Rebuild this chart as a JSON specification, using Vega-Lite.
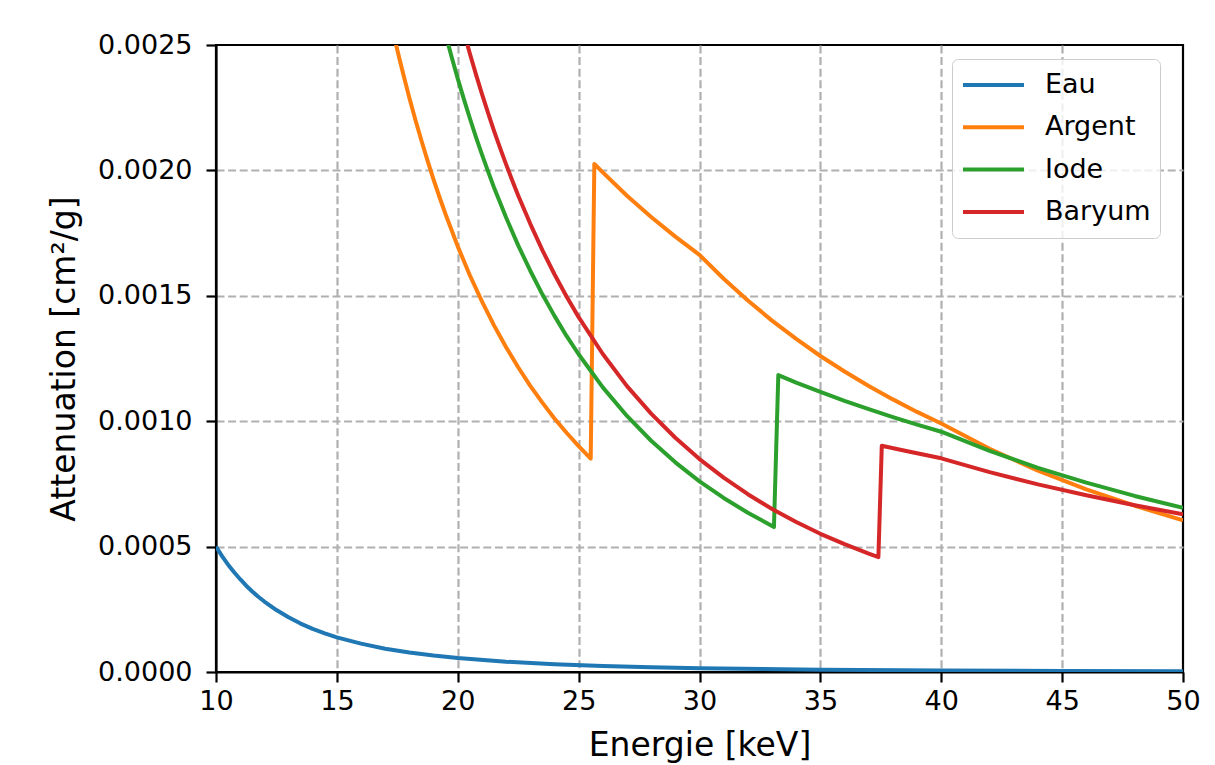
{
  "$schema": "https://vega.github.io/schema/vega-lite/v6.json",
  "width": 967,
  "height": 627,
  "autosize": {"type": "none"},
  "padding": {"left": 216, "top": 45, "right": 32, "bottom": 93},
  "background": "white",
  "config": {
    "font": "DejaVu Sans",
    "view": {"stroke": "black", "strokeWidth": 2.2},
    "axis": {
      "domainColor": "black",
      "domainWidth": 2.2,
      "tickColor": "black",
      "tickWidth": 2.2,
      "tickSize": 10,
      "labelFontSize": 27,
      "labelColor": "black",
      "labelFlush": false,
      "titleFontSize": 33,
      "titleFontWeight": "normal",
      "titleColor": "black",
      "gridColor": "#b0b0b0",
      "gridWidth": 2.2,
      "gridDash": [8, 3.6]
    }
  },
  "data": {
    "values": [
      {"s": "Eau", "e": 10, "v": 0.0005},
      {"s": "Eau", "e": 10.25, "v": 0.000462},
      {"s": "Eau", "e": 10.5, "v": 0.000428},
      {"s": "Eau", "e": 10.75, "v": 0.000398},
      {"s": "Eau", "e": 11, "v": 0.00037},
      {"s": "Eau", "e": 11.25, "v": 0.000344},
      {"s": "Eau", "e": 11.5, "v": 0.000321},
      {"s": "Eau", "e": 11.75, "v": 0.0003},
      {"s": "Eau", "e": 12, "v": 0.000281},
      {"s": "Eau", "e": 12.5, "v": 0.000247},
      {"s": "Eau", "e": 13, "v": 0.000218},
      {"s": "Eau", "e": 13.5, "v": 0.000193},
      {"s": "Eau", "e": 14, "v": 0.000172},
      {"s": "Eau", "e": 14.5, "v": 0.000154},
      {"s": "Eau", "e": 15, "v": 0.000138},
      {"s": "Eau", "e": 16, "v": 0.000113},
      {"s": "Eau", "e": 17, "v": 0.000093},
      {"s": "Eau", "e": 18, "v": 0.0000776},
      {"s": "Eau", "e": 19, "v": 0.0000654},
      {"s": "Eau", "e": 20, "v": 0.0000556},
      {"s": "Eau", "e": 22, "v": 0.0000411},
      {"s": "Eau", "e": 24, "v": 0.0000312},
      {"s": "Eau", "e": 26, "v": 0.0000242},
      {"s": "Eau", "e": 28, "v": 0.0000191},
      {"s": "Eau", "e": 30, "v": 0.0000154},
      {"s": "Eau", "e": 35, "v": 0.0000094},
      {"s": "Eau", "e": 40, "v": 0.0000062},
      {"s": "Eau", "e": 45, "v": 0.0000042},
      {"s": "Eau", "e": 50, "v": 0.000003},

      {"s": "Argent", "e": 17.2, "v": 0.002605},
      {"s": "Argent", "e": 17.5, "v": 0.00248},
      {"s": "Argent", "e": 17.75, "v": 0.002382},
      {"s": "Argent", "e": 18, "v": 0.002289},
      {"s": "Argent", "e": 18.25, "v": 0.002201},
      {"s": "Argent", "e": 18.5, "v": 0.002118},
      {"s": "Argent", "e": 18.75, "v": 0.002039},
      {"s": "Argent", "e": 19, "v": 0.001963},
      {"s": "Argent", "e": 19.25, "v": 0.001892},
      {"s": "Argent", "e": 19.5, "v": 0.001824},
      {"s": "Argent", "e": 20, "v": 0.001697},
      {"s": "Argent", "e": 20.5, "v": 0.001582},
      {"s": "Argent", "e": 21, "v": 0.001478},
      {"s": "Argent", "e": 21.5, "v": 0.001382},
      {"s": "Argent", "e": 22, "v": 0.001295},
      {"s": "Argent", "e": 22.5, "v": 0.001215},
      {"s": "Argent", "e": 23, "v": 0.001141},
      {"s": "Argent", "e": 23.5, "v": 0.001074},
      {"s": "Argent", "e": 24, "v": 0.001011},
      {"s": "Argent", "e": 24.5, "v": 0.000954},
      {"s": "Argent", "e": 25, "v": 0.0009005},
      {"s": "Argent", "e": 25.5, "v": 0.000851},
      {"s": "Argent", "e": 25.65, "v": 0.002026},
      {"s": "Argent", "e": 26, "v": 0.001992},
      {"s": "Argent", "e": 27, "v": 0.001899},
      {"s": "Argent", "e": 28, "v": 0.001814},
      {"s": "Argent", "e": 29, "v": 0.001736},
      {"s": "Argent", "e": 30, "v": 0.001663},
      {"s": "Argent", "e": 31, "v": 0.001568},
      {"s": "Argent", "e": 32, "v": 0.001481},
      {"s": "Argent", "e": 33, "v": 0.001401},
      {"s": "Argent", "e": 34, "v": 0.001328},
      {"s": "Argent", "e": 35, "v": 0.00126},
      {"s": "Argent", "e": 36, "v": 0.001198},
      {"s": "Argent", "e": 37, "v": 0.00114},
      {"s": "Argent", "e": 38, "v": 0.001087},
      {"s": "Argent", "e": 39, "v": 0.001037},
      {"s": "Argent", "e": 40, "v": 0.000991},
      {"s": "Argent", "e": 42, "v": 0.00089},
      {"s": "Argent", "e": 44, "v": 0.000803},
      {"s": "Argent", "e": 46, "v": 0.000728},
      {"s": "Argent", "e": 48, "v": 0.000663},
      {"s": "Argent", "e": 50, "v": 0.000605},

      {"s": "Iode", "e": 19.4, "v": 0.002577},
      {"s": "Iode", "e": 19.75, "v": 0.002451},
      {"s": "Iode", "e": 20, "v": 0.002366},
      {"s": "Iode", "e": 20.25, "v": 0.002285},
      {"s": "Iode", "e": 20.5, "v": 0.002208},
      {"s": "Iode", "e": 20.75, "v": 0.002134},
      {"s": "Iode", "e": 21, "v": 0.002064},
      {"s": "Iode", "e": 21.25, "v": 0.001997},
      {"s": "Iode", "e": 21.5, "v": 0.001932},
      {"s": "Iode", "e": 22, "v": 0.001812},
      {"s": "Iode", "e": 22.5, "v": 0.001701},
      {"s": "Iode", "e": 23, "v": 0.0016},
      {"s": "Iode", "e": 23.5, "v": 0.001506},
      {"s": "Iode", "e": 24, "v": 0.00142},
      {"s": "Iode", "e": 24.5, "v": 0.00134},
      {"s": "Iode", "e": 25, "v": 0.001267},
      {"s": "Iode", "e": 26, "v": 0.001135},
      {"s": "Iode", "e": 27, "v": 0.001021},
      {"s": "Iode", "e": 28, "v": 0.000922},
      {"s": "Iode", "e": 29, "v": 0.000836},
      {"s": "Iode", "e": 30, "v": 0.00076},
      {"s": "Iode", "e": 31, "v": 0.000694},
      {"s": "Iode", "e": 32, "v": 0.000635},
      {"s": "Iode", "e": 33.08, "v": 0.000578},
      {"s": "Iode", "e": 33.26, "v": 0.001184},
      {"s": "Iode", "e": 34, "v": 0.001154},
      {"s": "Iode", "e": 35, "v": 0.001117},
      {"s": "Iode", "e": 36, "v": 0.001081},
      {"s": "Iode", "e": 37, "v": 0.001048},
      {"s": "Iode", "e": 38, "v": 0.001016},
      {"s": "Iode", "e": 39, "v": 0.000986},
      {"s": "Iode", "e": 40, "v": 0.000958},
      {"s": "Iode", "e": 42, "v": 0.000882},
      {"s": "Iode", "e": 44, "v": 0.000814},
      {"s": "Iode", "e": 46, "v": 0.000755},
      {"s": "Iode", "e": 48, "v": 0.000702},
      {"s": "Iode", "e": 50, "v": 0.000655},

      {"s": "Baryum", "e": 20.2, "v": 0.00257},
      {"s": "Baryum", "e": 20.5, "v": 0.002466},
      {"s": "Baryum", "e": 20.75, "v": 0.002384},
      {"s": "Baryum", "e": 21, "v": 0.002305},
      {"s": "Baryum", "e": 21.25, "v": 0.00223},
      {"s": "Baryum", "e": 21.5, "v": 0.002158},
      {"s": "Baryum", "e": 21.75, "v": 0.00209},
      {"s": "Baryum", "e": 22, "v": 0.002024},
      {"s": "Baryum", "e": 22.25, "v": 0.001961},
      {"s": "Baryum", "e": 22.5, "v": 0.0019},
      {"s": "Baryum", "e": 23, "v": 0.001787},
      {"s": "Baryum", "e": 23.5, "v": 0.001682},
      {"s": "Baryum", "e": 24, "v": 0.001586},
      {"s": "Baryum", "e": 24.5, "v": 0.001497},
      {"s": "Baryum", "e": 25, "v": 0.001415},
      {"s": "Baryum", "e": 26, "v": 0.001268},
      {"s": "Baryum", "e": 27, "v": 0.00114},
      {"s": "Baryum", "e": 28, "v": 0.00103},
      {"s": "Baryum", "e": 29, "v": 0.000934},
      {"s": "Baryum", "e": 30, "v": 0.000849},
      {"s": "Baryum", "e": 31, "v": 0.000775},
      {"s": "Baryum", "e": 32, "v": 0.000709},
      {"s": "Baryum", "e": 33, "v": 0.00065},
      {"s": "Baryum", "e": 34, "v": 0.000598},
      {"s": "Baryum", "e": 35, "v": 0.000551},
      {"s": "Baryum", "e": 36, "v": 0.00051},
      {"s": "Baryum", "e": 37, "v": 0.000472},
      {"s": "Baryum", "e": 37.4, "v": 0.000458},
      {"s": "Baryum", "e": 37.54, "v": 0.000902},
      {"s": "Baryum", "e": 38.5, "v": 0.000882},
      {"s": "Baryum", "e": 39, "v": 0.000872},
      {"s": "Baryum", "e": 40, "v": 0.000852},
      {"s": "Baryum", "e": 42, "v": 0.000797},
      {"s": "Baryum", "e": 44, "v": 0.000748},
      {"s": "Baryum", "e": 46, "v": 0.000705},
      {"s": "Baryum", "e": 48, "v": 0.000665},
      {"s": "Baryum", "e": 50, "v": 0.000629}
    ]
  },
  "mark": {"type": "line", "strokeWidth": 4, "clip": true, "strokeJoin": "round"},
  "encoding": {
    "x": {
      "field": "e",
      "type": "quantitative",
      "scale": {"domain": [10, 50], "nice": false},
      "axis": {
        "values": [10, 15, 20, 25, 30, 35, 40, 45, 50],
        "title": "Energie [keV]",
        "labelPadding": 6,
        "titlePadding": 15,
        "gridOpacity": {"condition": {"test": "datum.value <= 10 || datum.value >= 50", "value": 0}, "value": 1}
      }
    },
    "y": {
      "field": "v",
      "type": "quantitative",
      "scale": {"domain": [0, 0.0025], "nice": false},
      "axis": {
        "values": [0, 0.0005, 0.001, 0.0015, 0.002, 0.0025],
        "format": ".4f",
        "title": "Attenuation [cm²/g]",
        "labelPadding": 14,
        "titlePadding": 16,
        "gridOpacity": {"condition": {"test": "datum.value <= 0 || datum.value >= 0.0025", "value": 0}, "value": 1}
      }
    },
    "color": {
      "field": "s",
      "type": "nominal",
      "sort": ["Eau", "Argent", "Iode", "Baryum"],
      "scale": {
        "domain": ["Eau", "Argent", "Iode", "Baryum"],
        "range": ["#1f77b4", "#ff7f0e", "#2ca02c", "#d62728"]
      },
      "legend": {
        "orient": "none",
        "legendX": 736,
        "legendY": 14,
        "title": null,
        "symbolType": "stroke",
        "symbolSize": 3721,
        "symbolStrokeWidth": 4,
        "labelFontSize": 27,
        "labelColor": "black",
        "labelOffset": 19,
        "clipHeight": 34,
        "rowPadding": 8.3,
        "padding": 9,
        "fillColor": "rgba(255,255,255,0.8)",
        "strokeColor": "#cccccc",
        "cornerRadius": 6
      }
    }
  }
}
